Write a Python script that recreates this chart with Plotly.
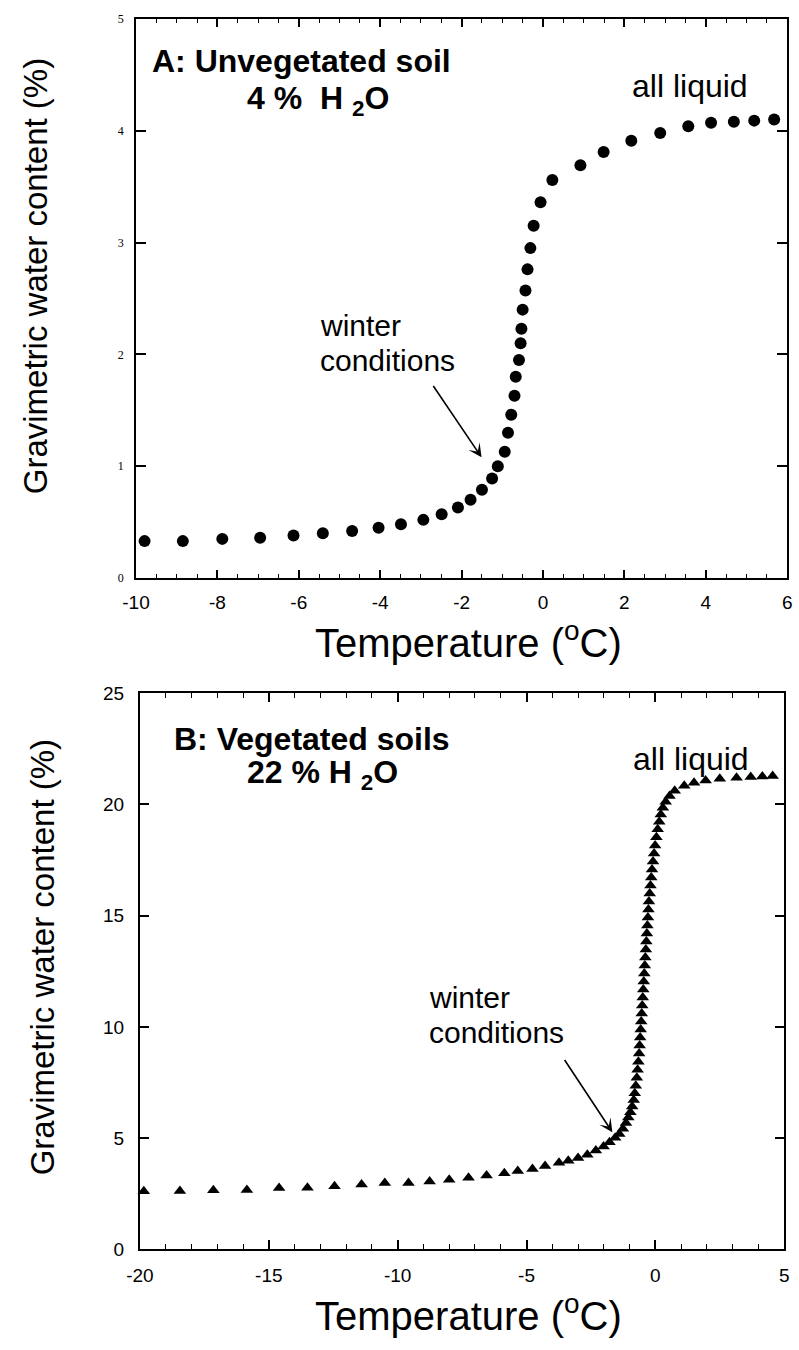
import plotly.graph_objects as go

# ---------------- data ----------------
temp_a = [-9.79, -8.85, -7.88, -6.95, -6.13, -5.41, -4.69, -4.04, -3.49, -2.94,
          -2.49, -2.09, -1.78, -1.50, -1.25, -1.11, -0.94, -0.86, -0.78, -0.70,
          -0.67, -0.59, -0.55, -0.53, -0.50, -0.43, -0.38, -0.31, -0.23, -0.06,
          0.23, 0.92, 1.49, 2.17, 2.88, 3.57, 4.13, 4.69, 5.19, 5.68]
water_a = [0.33, 0.33, 0.35, 0.36, 0.38, 0.40, 0.42, 0.45, 0.48, 0.52,
           0.57, 0.63, 0.70, 0.79, 0.89, 1.00, 1.13, 1.30, 1.46, 1.63,
           1.80, 1.95, 2.10, 2.23, 2.40, 2.57, 2.76, 2.95, 3.15, 3.36,
           3.56, 3.69, 3.81, 3.91, 3.98, 4.04, 4.07, 4.08, 4.09, 4.10]

temp_b = [-19.85, -18.45, -17.15, -15.85, -14.6, -13.5, -12.45, -11.4, -10.5, -9.58,
          -8.76, -8.0, -7.25, -6.55, -5.86, -5.34, -4.77, -4.28, -3.74, -3.38,
          -3.0, -2.64, -2.31, -2.01, -1.78, -1.56, -1.40, -1.26, -1.14, -1.05,
          -0.97, -0.90, -0.84, -0.80, -0.76, -0.72, -0.69, -0.66, -0.63, -0.61,
          -0.59, -0.57, -0.55, -0.53, -0.51, -0.49, -0.47, -0.45, -0.43, -0.41,
          -0.39, -0.37, -0.35, -0.33, -0.31, -0.29, -0.27, -0.25, -0.22, -0.19,
          -0.16, -0.13, -0.09, -0.05, -0.01, 0.04, 0.09, 0.15, 0.21, 0.29,
          0.40, 0.55, 0.75, 1.12, 1.50, 1.95, 2.50, 3.15, 3.70, 4.15,
          4.55]
water_b = [2.61, 2.62, 2.66, 2.67, 2.76, 2.77, 2.84, 2.92, 2.98, 2.99,
           3.05, 3.13, 3.22, 3.32, 3.42, 3.52, 3.61, 3.75, 3.89, 3.98,
           4.11, 4.26, 4.45, 4.63, 4.82, 5.02, 5.19, 5.42, 5.68, 5.93,
           6.17, 6.42, 6.72, 7.02, 7.36, 7.72, 8.08, 8.44, 8.80, 9.16,
           9.52, 9.88, 10.24, 10.60, 10.96, 11.32, 11.68, 12.04, 12.40, 12.76,
           13.12, 13.48, 13.84, 14.20, 14.56, 14.92, 15.28, 15.64, 16.00, 16.36,
           16.72, 17.08, 17.44, 17.80, 18.16, 18.52, 18.88, 19.22, 19.55, 19.85,
           20.12, 20.38, 20.62, 20.84, 20.97, 21.08, 21.15, 21.20, 21.23, 21.26,
           21.28]

xticks_a = [-10, -8, -6, -4, -2, 0, 2, 4, 6]
yticks_a = [0, 1, 2, 3, 4, 5]
xticks_b = [-20, -15, -10, -5, 0, 5]
yticks_b = [0, 5, 10, 15, 20, 25]

x_title = "Temperature (<sup>o</sup>C)"
y_title = "Gravimetric water content (%)"

# ---------------- figure ----------------
W, H = 799, 1350
SANS = "Liberation Sans, Arial, Helvetica, sans-serif"
SERIF = "Liberation Serif, Times New Roman, serif"


def px(x):
    return x / W


def py(y):
    return 1 - y / H


fig = go.Figure()
fig.add_trace(go.Scatter(x=temp_a, y=water_a, mode="markers",
                         marker=dict(symbol="circle", size=12, color="black"),
                         xaxis="x", yaxis="y", showlegend=False, cliponaxis=False))
fig.add_trace(go.Scatter(x=temp_b, y=water_b, mode="markers",
                         marker=dict(symbol="triangle-up", size=11, color="black"),
                         xaxis="x2", yaxis="y2", showlegend=False, cliponaxis=False))

common = dict(showline=True, linecolor="black", linewidth=2, mirror="allticks",
              ticks="inside", tickcolor="black", tickwidth=1.5, showgrid=False,
              zeroline=False)

fig.update_layout(
    width=W, height=H, margin=dict(l=0, r=0, t=0, b=0),
    paper_bgcolor="white", plot_bgcolor="white",
    font=dict(family=SANS, color="black"),
    xaxis=dict(domain=[px(125), px(792)], range=[-10, 6], anchor="y",
               tickvals=xticks_a, ticktext=[str(v) for v in xticks_a], ticklen=8,
               tickfont=dict(family=SANS, size=19), ticklabelstandoff=6,
               minor=dict(dtick=0.5, ticklen=4, ticks="inside", tickcolor="black", tickwidth=1.2),
               **common),
    yaxis=dict(domain=[py(577), py(9)], range=[0, 5], anchor="x",
               tickvals=yticks_a, ticktext=[str(v) for v in yticks_a], ticklen=10,
               tickfont=dict(family=SERIF, size=12), ticklabelstandoff=8,
               **common),
    xaxis2=dict(domain=[px(129), px(789)], range=[-20, 5], anchor="y2",
                tickvals=xticks_b, ticktext=[str(v) for v in xticks_b], ticklen=9,
                tickfont=dict(family=SANS, size=19), ticklabelstandoff=8,
                minor=dict(dtick=1, ticklen=5, ticks="inside", tickcolor="black", tickwidth=1.2),
                **common),
    yaxis2=dict(domain=[py(1259), py(694)], range=[0, 25], anchor="x2",
                tickvals=yticks_b, ticktext=[str(v) for v in yticks_b], ticklen=9,
                tickfont=dict(family=SANS, size=19), ticklabelstandoff=10,
                **common),
)

ann = []
# axis titles
for cx, cy in [(466, 640), (466, 1324)]:
    ann.append(dict(text=x_title, x=px(cx), y=py(cy), xref="paper", yref="paper",
                    xanchor="center", yanchor="middle", showarrow=False,
                    font=dict(family=SANS, size=40)))
for cx, cy in [(22, 270), (29, 962)]:
    ann.append(dict(text=y_title, x=px(cx), y=py(cy), xref="paper", yref="paper",
                    xanchor="center", yanchor="middle", showarrow=False, textangle=-90,
                    font=dict(family=SANS, size=33)))

# panel texts (text, centre x, centre y, size)
texts = [
    ("<b>A: Unvegetated soil</b>", 294, 52, 32),
    ("<b>4 %\u00a0\u00a0H\u00a0<sub>2</sub>O</b>", 311, 92, 32),
    ("<b>B: Vegetated soils</b>", 305, 741, 32),
    ("<b>22 % H\u00a0<sub>2</sub>O</b>", 316, 777, 32),
    ("all liquid", 692, 77, 32),
    ("all liquid", 694, 761, 32),
]
for t, cx, cy, s in texts:
    ann.append(dict(text=t, x=px(cx), y=py(cy), xref="paper", yref="paper",
                    xanchor="center", yanchor="middle", showarrow=False,
                    borderpad=0, font=dict(family=SANS, size=s)))

# two-line labels: lines stacked so their boxes just touch
for left, split in [(312, 338), (424, 1021)]:
    ann.append(dict(text="winter", x=px(left), y=py(split), xref="paper", yref="paper",
                    xanchor="left", yanchor="bottom", showarrow=False, borderpad=0,
                    font=dict(family=SANS, size=30)))
    ann.append(dict(text="conditions", x=px(left), y=py(split), xref="paper", yref="paper",
                    xanchor="left", yanchor="top", showarrow=False, borderpad=0,
                    font=dict(family=SANS, size=30)))

# arrows
for xr, yr, tip, tail in [("x", "y", (-1.51, 1.08), (-2.72, 1.73)),
                          ("x2", "y2", (-1.67, 5.27), (-3.56, 8.58))]:
    ann.append(dict(text="", x=tip[0], y=tip[1], ax=tail[0], ay=tail[1],
                    xref=xr, yref=yr, axref=xr, ayref=yr, showarrow=True,
                    arrowhead=3, arrowsize=1.4, arrowwidth=1.6, arrowcolor="black",
                    standoff=0))

fig.update_layout(annotations=ann)
fig.write_html("out.html", config={"displayModeBar": False},
               post_script="document.body.style.margin='0';")
